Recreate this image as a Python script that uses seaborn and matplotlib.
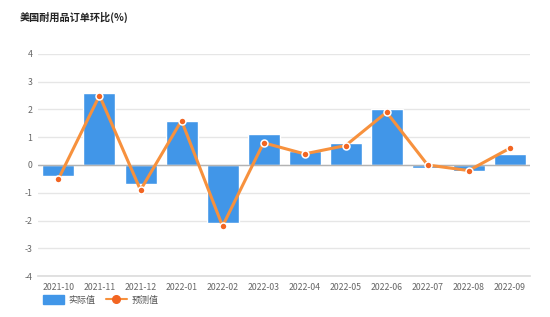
import numpy as np
import pandas as pd
import matplotlib
matplotlib.use("Agg")
import matplotlib.pyplot as plt
import seaborn as sns
from matplotlib.lines import Line2D
from matplotlib.patches import Patch

months = ["2021-10", "2021-11", "2021-12", "2022-01", "2022-02", "2022-03",
          "2022-04", "2022-05", "2022-06", "2022-07", "2022-08", "2022-09"]
actual = [-0.4, 2.6, -0.7, 1.6, -2.1, 1.1, 0.5, 0.8, 2.0, -0.1, -0.2, 0.4]
forecast = [-0.5, 2.5, -0.9, 1.6, -2.2, 0.8, 0.4, 0.7, 1.9, 0.0, -0.2, 0.6]
yticks = [-4, -3, -2, -1, 0, 1, 2, 3, 4]
title = "美国耐用品订单环比(%)"

sns.set_theme(style="white")
plt.rcParams['font.family'] = ['Noto Sans CJK SC', 'DejaVu Sans']

BLUE = "#4196e8"
ORANGE = "#f7913d"

df = pd.DataFrame({"month": months, "actual": actual, "forecast": forecast})

fig = plt.figure(figsize=(5.5, 3.17), dpi=100)
ax = fig.add_axes([0.069, 0.129, 0.895, 0.701])

sns.barplot(data=df, x="month", y="actual", color=BLUE, width=0.78,
            saturation=1, ax=ax, zorder=2)
ax.axhline(0, color="#b3b3b3", lw=1, zorder=2.5)
sns.lineplot(x=np.arange(len(months)), y=forecast, color=ORANGE, lw=2.2,
             marker="o", markersize=5, markerfacecolor="#f26522",
             markeredgecolor="white", markeredgewidth=1.1, ax=ax, zorder=3)

ax.set_ylim(-4, 4)
ax.set_xlim(-0.5, len(months) - 0.5)
ax.set_yticks(yticks)
ax.set_yticklabels([str(t) for t in yticks])
ax.yaxis.grid(True, color="#e6e6e6", lw=1)
ax.set_axisbelow(True)
for s in ["top", "right", "left"]:
    ax.spines[s].set_visible(False)
ax.spines["bottom"].set_color("#dddddd")
ax.set_xlabel("")
ax.set_ylabel("")
ax.tick_params(axis="both", length=0, labelsize=6.3, colors="#666666")
ax.tick_params(axis="y", pad=4)
ax.tick_params(axis="x", pad=5)

fig.text(0.036, 0.945, title, fontsize=7.3, color="#222222", ha="left",
         va="center", fontweight="bold")

handles = [Patch(facecolor=BLUE, edgecolor=BLUE),
           Line2D([0], [0], color=ORANGE, lw=1.5, marker="o", markersize=5.5,
                  markerfacecolor="#f26522", markeredgecolor="#f26522")]
fig.legend(handles, ["实际值", "预测值"], loc="center left",
           bbox_to_anchor=(0.063, 0.053), ncol=2, frameon=False, fontsize=6.5,
           handlelength=2.3, handleheight=1.1, columnspacing=1.2,
           handletextpad=0.5, labelcolor="#555555")

fig.savefig("out.png", dpi=100)
